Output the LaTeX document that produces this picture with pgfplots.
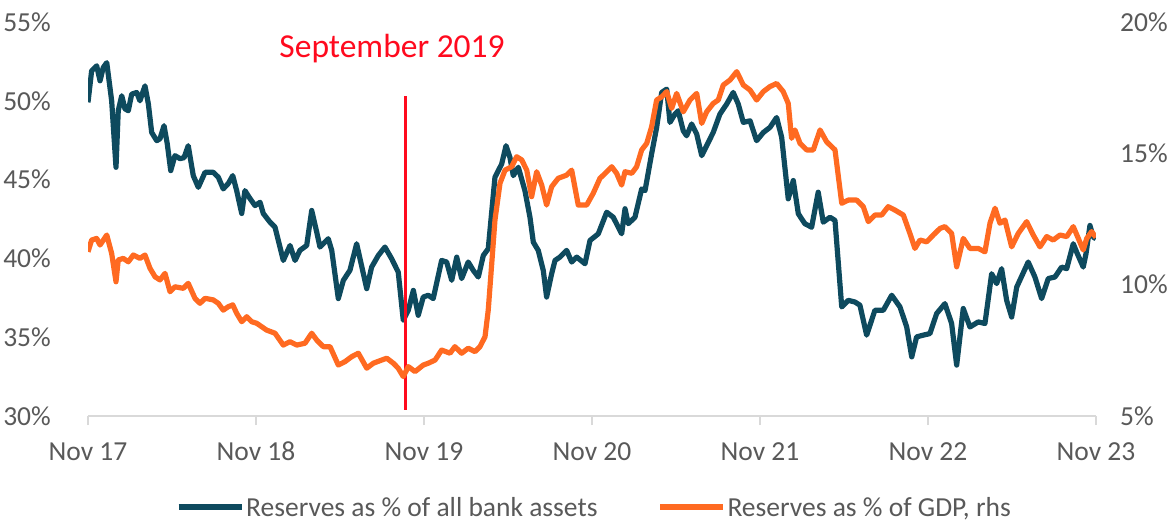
\documentclass[border=0pt]{standalone}
\usepackage{pgfplots}
\pgfplotsset{compat=1.18}
\usepackage{pgfplotstable}
\usepackage{fontspec}
\setmainfont{Carlito}
\definecolor{bankblue}{HTML}{0E4A5E}
\definecolor{gdporange}{HTML}{FF6A21}
\definecolor{labelgray}{HTML}{595959}
\definecolor{axisgray}{HTML}{D9D9D9}
\definecolor{sepred}{HTML}{FF0A1E}

\pgfplotstableread{
m v
0 49.9
0.26 51.9
0.62 52.22
0.86 51.27
1.09 52.11
1.34 52.42
1.69 50.0
2.0 45.78
2.16 49.37
2.41 50.32
2.64 49.49
2.88 49.37
3.12 50.42
3.48 50.53
3.71 50.0
4.07 50.95
4.31 49.81
4.55 47.99
4.91 47.47
5.14 47.59
5.43 48.42
5.66 47.28
5.91 45.57
6.21 46.52
6.57 46.33
6.86 46.39
7.16 47.15
7.52 45.25
7.88 44.51
8.36 45.46
8.95 45.46
9.31 45.15
9.66 44.41
10.02 44.75
10.34 45.25
10.62 44.30
10.98 42.85
11.21 44.30
11.57 43.80
11.93 43.35
12.29 43.56
12.52 42.85
13.0 42.30
13.36 41.98
13.95 39.87
14.43 40.82
14.79 39.87
15.14 40.51
15.62 40.82
15.98 43.04
16.34 41.66
16.57 40.72
17.16 41.25
17.41 40.51
17.88 37.45
18.24 38.61
18.71 39.24
19.19 40.93
19.91 38.08
20.26 39.45
20.74 40.19
21.21 40.72
21.69 39.98
22.16 39.13
22.52 36.08
22.88 36.71
23.24 37.97
23.59 36.39
23.95 37.55
24.31 37.66
24.66 37.45
25.26 39.87
25.62 39.77
25.98 38.61
26.34 40.08
26.69 38.72
27.16 39.77
27.52 39.24
27.88 38.82
28.24 40.19
28.59 40.61
29.07 45.15
29.55 45.99
29.86 47.15
30.14 46.41
30.38 45.25
30.74 45.78
31.21 44.30
31.57 42.61
31.81 41.03
32.16 40.51
32.52 39.24
32.76 37.55
33.12 39.03
33.36 39.87
33.71 40.08
34.19 40.51
34.55 39.77
34.91 40.08
35.5 39.66
35.86 41.14
36.45 41.56
37.05 42.93
37.52 42.61
38.12 41.56
38.36 43.15
38.59 42.2
39.07 42.61
39.55 44.41
39.79 44.30
40.26 46.63
40.62 48.31
40.98 50.53
41.34 50.74
41.57 48.63
41.93 49.16
42.16 49.37
42.52 48.10
42.76 47.78
43.12 48.53
43.48 47.89
43.84 46.52
44.19 47.15
44.66 47.99
45.14 49.16
45.62 49.79
46.09 50.53
46.45 49.79
46.81 48.63
47.29 48.73
47.76 47.47
48.24 47.99
48.71 48.31
49.19 48.94
49.55 47.68
50.02 43.78
50.38 44.94
50.74 42.83
51.21 42.2
51.69 41.98
52.16 44.2
52.52 42.30
53.0 42.61
53.36 42.41
53.84 36.92
54.31 37.34
54.79 37.23
55.14 37.03
55.62 35.13
56.21 36.71
56.81 36.71
57.41 37.66
58.0 36.92
58.48 35.65
58.84 33.75
59.19 35.02
59.66 35.13
60.14 35.23
60.62 36.5
61.21 37.13
61.69 35.87
62.05 33.23
62.52 36.82
63.0 35.65
63.59 35.97
64.07 35.87
64.55 39.03
64.91 38.4
65.26 39.35
65.62 37.34
65.98 36.28
66.34 38.18
67.16 39.77
67.64 38.82
68.12 37.45
68.59 38.72
69.07 38.82
69.55 39.45
69.91 39.35
70.38 40.93
70.62 40.4
71.09 39.45
71.29 40.3
71.57 42.09
71.81 41.35
72.0 41.25
}\banktable

\pgfplotstableread{
m r
0 11.25
0.26 11.70
0.62 11.76
0.86 11.51
1.34 11.89
1.69 11.19
2.0 10.11
2.16 10.94
2.52 11.0
2.88 10.87
3.24 11.13
3.71 11.0
4.07 11.13
4.43 10.62
4.79 10.30
5.14 10.18
5.5 10.43
5.86 9.73
6.21 9.92
6.81 9.86
7.16 10.05
7.64 9.48
8.0 9.29
8.36 9.48
8.95 9.42
9.31 9.29
9.66 9.03
10.02 9.16
10.34 9.23
10.62 8.91
10.98 8.59
11.34 8.78
11.69 8.59
12.05 8.53
12.76 8.27
13.36 8.15
13.95 7.70
14.43 7.83
14.91 7.70
15.5 7.77
15.98 8.15
16.34 7.89
16.81 7.64
17.29 7.64
17.88 6.94
18.36 7.07
18.84 7.26
19.31 7.39
19.91 6.82
20.38 7.01
20.98 7.13
21.34 7.20
21.81 7.01
22.16 6.82
22.52 6.50
22.88 6.88
23.36 6.69
23.95 6.94
24.31 7.01
24.79 7.13
25.26 7.51
25.86 7.39
26.21 7.64
26.69 7.39
27.16 7.58
27.64 7.45
28.0 7.64
28.36 8.02
28.59 9.03
28.84 10.81
29.07 12.46
29.43 13.86
29.79 14.36
30.26 14.49
30.62 14.87
30.98 14.75
31.34 14.36
31.69 13.35
32.05 14.30
32.41 13.79
32.76 13.03
33.12 13.73
33.59 14.05
34.19 14.17
34.55 14.36
35.02 13.03
35.62 13.03
36.09 13.48
36.57 14.05
36.81 14.17
37.41 14.49
37.76 14.24
38.12 13.79
38.36 14.30
38.84 14.24
39.19 14.49
39.55 15.13
39.91 15.38
40.26 16.01
40.62 17.03
40.98 17.15
41.34 17.35
41.69 16.71
42.05 17.28
42.52 16.58
43.0 17.03
43.48 17.28
43.84 16.14
44.19 16.58
44.66 16.90
45.02 17.03
45.38 17.60
45.86 17.79
46.34 18.11
46.81 17.60
47.29 17.41
47.76 17.03
48.24 17.35
48.71 17.54
49.19 17.66
49.66 17.35
50.02 16.90
50.26 15.57
50.5 15.89
50.86 15.38
51.34 15.13
51.81 15.13
52.29 15.89
52.76 15.44
53.36 15.13
53.84 13.10
54.31 13.22
54.91 13.22
55.38 12.97
55.74 12.40
56.21 12.65
56.69 12.65
57.16 12.97
57.64 12.84
58.24 12.65
58.71 11.95
59.07 11.38
59.43 11.70
59.91 11.63
60.38 11.89
60.86 12.14
61.21 12.21
61.69 11.95
62.05 10.68
62.52 11.76
63.0 11.38
63.59 11.38
64.07 11.25
64.43 12.34
64.79 12.91
65.14 12.34
65.5 12.46
65.98 11.44
66.45 11.95
67.05 12.40
67.52 11.89
68.0 11.44
68.48 11.83
68.95 11.70
69.43 11.89
69.91 11.83
70.38 12.21
70.74 11.76
71.09 11.32
71.34 11.76
71.69 12.02
72.0 11.80
}\gdptable

\begin{document}
\begin{tikzpicture}
\path[use as bounding box] (0,0) rectangle (1173bp,523bp);
\pgfplotsset{
  common/.style={
    at={(88bp,107bp)}, anchor=south west,
    scale only axis, width=1008bp, height=394bp,
    xmin=0, xmax=72,
    /pgf/number format/assume math mode=true,
    tick label style={font=\fontsize{27.5bp}{30bp}\selectfont, text=labelgray},
    y axis line style={draw=none},
    ytick style={draw=none},
  }
}
\begin{axis}[common,
  ymin=30, ymax=55,
  axis x line*=bottom, axis y line*=left,
  x axis line style={draw=axisgray, line width=1.5bp},
  xtick={0,12,24,36,48,60,72},
  xticklabels={Nov 17,Nov 18,Nov 19,Nov 20,Nov 21,Nov 22,Nov 23},
  xtick style={draw=axisgray, line width=1.5bp},
  tick align=outside, major tick length=9bp,
  xticklabel style={anchor=base, inner sep=0pt, yshift=-35bp},
  ytick={30,35,40,45,50,55},
  yticklabel={\pgfmathprintnumber{\tick}\%},
  yticklabel style={anchor=east, inner sep=0pt, xshift=-28bp},
  legend style={draw=none, fill=none, at={(0.502,-0.232)}, anchor=center,
    font=\fontsize{27.5bp}{30bp}\selectfont, text=labelgray,
    inner sep=0pt, column sep=0pt,
    nodes={inner sep=1.5bp},
    /tikz/every even column/.append style={column sep=58bp}},
  legend columns=2,
  legend image code/.code={\draw[#1, line width=6bp] (0bp,0bp) -- (63bp,0bp);},
]
\addplot[bankblue, line width=5.2bp, line join=round] table[x=m, y=v] {\banktable};
\addlegendentry{Reserves as \% of all bank assets}
\addlegendimage{gdporange, line width=5.2bp}
\addlegendentry{Reserves as \% of GDP, rhs}
\addplot[sepred, line width=3bp, forget plot] coordinates {(22.7,30.4) (22.7,50.3)};
\node[text=sepred, font=\fontsize{33.5bp}{36bp}\selectfont, inner sep=0pt] at (axis cs:21.72,53.3) {September 2019};
\end{axis}
\begin{axis}[common,
  ymin=5, ymax=20,
  axis x line=none, axis y line*=right,
  ytick={5,10,15,20},
  yticklabel={\pgfmathprintnumber{\tick}\%},
  yticklabel style={anchor=west, inner sep=0pt, xshift=24bp},
]
\addplot[gdporange, line width=5.2bp, line join=round] table[x=m, y=r] {\gdptable};
\end{axis}
\end{tikzpicture}
\end{document}
